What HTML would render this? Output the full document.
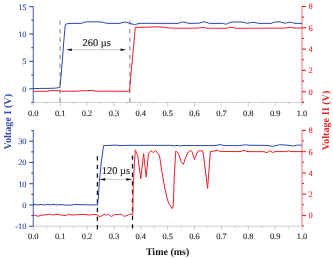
<!DOCTYPE html>
<html><head><meta charset="utf-8"><style>
html,body{margin:0;padding:0;background:#fff;}
svg{display:block;will-change:transform;}
text{font-family:"Liberation Serif",serif;text-rendering:geometricPrecision;}
.tl{font-size:8.4px;fill:#222;stroke:#222;stroke-width:0.12px;}
.tb{font-size:8.4px;fill:#3348a8;stroke:#3348a8;stroke-width:0.12px;}
.tr{font-size:8.4px;fill:#e62424;stroke:#e62424;stroke-width:0.12px;}
.ann{font-size:10.4px;fill:#222;stroke:#222;stroke-width:0.15px;}
.yt{font-size:10.2px;font-weight:bold;}
.xt{font-size:10px;font-weight:bold;fill:#111;}
</style></head><body>
<svg width="333" height="259" viewBox="0 0 333 259">
<line x1="33.3" y1="102.4" x2="302.0" y2="102.4" stroke="#cccccc" stroke-width="1"/>
<line x1="33.30" y1="102.4" x2="33.30" y2="106.4" stroke="#cccccc" stroke-width="1"/>
<text x="33.30" y="115.60" text-anchor="middle" class="tl">0.0</text>
<line x1="46.73" y1="102.4" x2="46.73" y2="104.4" stroke="#cccccc" stroke-width="1"/>
<line x1="60.17" y1="102.4" x2="60.17" y2="106.4" stroke="#cccccc" stroke-width="1"/>
<text x="60.17" y="115.60" text-anchor="middle" class="tl">0.1</text>
<line x1="73.60" y1="102.4" x2="73.60" y2="104.4" stroke="#cccccc" stroke-width="1"/>
<line x1="87.04" y1="102.4" x2="87.04" y2="106.4" stroke="#cccccc" stroke-width="1"/>
<text x="87.04" y="115.60" text-anchor="middle" class="tl">0.2</text>
<line x1="100.47" y1="102.4" x2="100.47" y2="104.4" stroke="#cccccc" stroke-width="1"/>
<line x1="113.91" y1="102.4" x2="113.91" y2="106.4" stroke="#cccccc" stroke-width="1"/>
<text x="113.91" y="115.60" text-anchor="middle" class="tl">0.3</text>
<line x1="127.34" y1="102.4" x2="127.34" y2="104.4" stroke="#cccccc" stroke-width="1"/>
<line x1="140.78" y1="102.4" x2="140.78" y2="106.4" stroke="#cccccc" stroke-width="1"/>
<text x="140.78" y="115.60" text-anchor="middle" class="tl">0.4</text>
<line x1="154.21" y1="102.4" x2="154.21" y2="104.4" stroke="#cccccc" stroke-width="1"/>
<line x1="167.65" y1="102.4" x2="167.65" y2="106.4" stroke="#cccccc" stroke-width="1"/>
<text x="167.65" y="115.60" text-anchor="middle" class="tl">0.5</text>
<line x1="181.08" y1="102.4" x2="181.08" y2="104.4" stroke="#cccccc" stroke-width="1"/>
<line x1="194.52" y1="102.4" x2="194.52" y2="106.4" stroke="#cccccc" stroke-width="1"/>
<text x="194.52" y="115.60" text-anchor="middle" class="tl">0.6</text>
<line x1="207.95" y1="102.4" x2="207.95" y2="104.4" stroke="#cccccc" stroke-width="1"/>
<line x1="221.39" y1="102.4" x2="221.39" y2="106.4" stroke="#cccccc" stroke-width="1"/>
<text x="221.39" y="115.60" text-anchor="middle" class="tl">0.7</text>
<line x1="234.82" y1="102.4" x2="234.82" y2="104.4" stroke="#cccccc" stroke-width="1"/>
<line x1="248.26" y1="102.4" x2="248.26" y2="106.4" stroke="#cccccc" stroke-width="1"/>
<text x="248.26" y="115.60" text-anchor="middle" class="tl">0.8</text>
<line x1="261.69" y1="102.4" x2="261.69" y2="104.4" stroke="#cccccc" stroke-width="1"/>
<line x1="275.13" y1="102.4" x2="275.13" y2="106.4" stroke="#cccccc" stroke-width="1"/>
<text x="275.13" y="115.60" text-anchor="middle" class="tl">0.9</text>
<line x1="288.56" y1="102.4" x2="288.56" y2="104.4" stroke="#cccccc" stroke-width="1"/>
<line x1="302.00" y1="102.4" x2="302.00" y2="106.4" stroke="#cccccc" stroke-width="1"/>
<text x="302.00" y="115.60" text-anchor="middle" class="tl">1.0</text>
<line x1="33.3" y1="6.5" x2="33.3" y2="102.4" stroke="#5566bb" stroke-width="1.1"/>
<line x1="31.299999999999997" y1="102.50" x2="33.3" y2="102.50" stroke="#3348a8" stroke-width="1.1"/>
<line x1="29.299999999999997" y1="88.80" x2="33.3" y2="88.80" stroke="#3348a8" stroke-width="1.1"/>
<text x="26.50" y="91.70" text-anchor="end" class="tb">0</text>
<line x1="31.299999999999997" y1="75.10" x2="33.3" y2="75.10" stroke="#3348a8" stroke-width="1.1"/>
<line x1="29.299999999999997" y1="61.40" x2="33.3" y2="61.40" stroke="#3348a8" stroke-width="1.1"/>
<text x="26.50" y="64.30" text-anchor="end" class="tb">5</text>
<line x1="31.299999999999997" y1="47.70" x2="33.3" y2="47.70" stroke="#3348a8" stroke-width="1.1"/>
<line x1="29.299999999999997" y1="34.00" x2="33.3" y2="34.00" stroke="#3348a8" stroke-width="1.1"/>
<text x="26.50" y="36.90" text-anchor="end" class="tb">10</text>
<line x1="31.299999999999997" y1="20.30" x2="33.3" y2="20.30" stroke="#3348a8" stroke-width="1.1"/>
<line x1="29.299999999999997" y1="6.60" x2="33.3" y2="6.60" stroke="#3348a8" stroke-width="1.1"/>
<text x="26.50" y="9.50" text-anchor="end" class="tb">15</text>
<line x1="302.0" y1="6.5" x2="302.0" y2="102.4" stroke="#f07a80" stroke-width="1.1"/>
<line x1="302.0" y1="102.40" x2="304.0" y2="102.40" stroke="#e62424" stroke-width="1.1"/>
<line x1="302.0" y1="91.74" x2="306.0" y2="91.74" stroke="#e62424" stroke-width="1.1"/>
<text x="308.60" y="94.64" class="tr">0</text>
<line x1="302.0" y1="81.08" x2="304.0" y2="81.08" stroke="#e62424" stroke-width="1.1"/>
<line x1="302.0" y1="70.42" x2="306.0" y2="70.42" stroke="#e62424" stroke-width="1.1"/>
<text x="308.60" y="73.32" class="tr">2</text>
<line x1="302.0" y1="59.76" x2="304.0" y2="59.76" stroke="#e62424" stroke-width="1.1"/>
<line x1="302.0" y1="49.10" x2="306.0" y2="49.10" stroke="#e62424" stroke-width="1.1"/>
<text x="308.60" y="52.00" class="tr">4</text>
<line x1="302.0" y1="38.44" x2="304.0" y2="38.44" stroke="#e62424" stroke-width="1.1"/>
<line x1="302.0" y1="27.78" x2="306.0" y2="27.78" stroke="#e62424" stroke-width="1.1"/>
<text x="308.60" y="30.68" class="tr">6</text>
<line x1="302.0" y1="17.12" x2="304.0" y2="17.12" stroke="#e62424" stroke-width="1.1"/>
<line x1="302.0" y1="6.46" x2="306.0" y2="6.46" stroke="#e62424" stroke-width="1.1"/>
<text x="308.60" y="9.36" class="tr">8</text>
<line x1="33.3" y1="226.2" x2="302.0" y2="226.2" stroke="#cccccc" stroke-width="1"/>
<line x1="33.30" y1="226.2" x2="33.30" y2="230.2" stroke="#cccccc" stroke-width="1"/>
<text x="33.30" y="239.40" text-anchor="middle" class="tl">0.0</text>
<line x1="46.73" y1="226.2" x2="46.73" y2="228.2" stroke="#cccccc" stroke-width="1"/>
<line x1="60.17" y1="226.2" x2="60.17" y2="230.2" stroke="#cccccc" stroke-width="1"/>
<text x="60.17" y="239.40" text-anchor="middle" class="tl">0.1</text>
<line x1="73.60" y1="226.2" x2="73.60" y2="228.2" stroke="#cccccc" stroke-width="1"/>
<line x1="87.04" y1="226.2" x2="87.04" y2="230.2" stroke="#cccccc" stroke-width="1"/>
<text x="87.04" y="239.40" text-anchor="middle" class="tl">0.2</text>
<line x1="100.47" y1="226.2" x2="100.47" y2="228.2" stroke="#cccccc" stroke-width="1"/>
<line x1="113.91" y1="226.2" x2="113.91" y2="230.2" stroke="#cccccc" stroke-width="1"/>
<text x="113.91" y="239.40" text-anchor="middle" class="tl">0.3</text>
<line x1="127.34" y1="226.2" x2="127.34" y2="228.2" stroke="#cccccc" stroke-width="1"/>
<line x1="140.78" y1="226.2" x2="140.78" y2="230.2" stroke="#cccccc" stroke-width="1"/>
<text x="140.78" y="239.40" text-anchor="middle" class="tl">0.4</text>
<line x1="154.21" y1="226.2" x2="154.21" y2="228.2" stroke="#cccccc" stroke-width="1"/>
<line x1="167.65" y1="226.2" x2="167.65" y2="230.2" stroke="#cccccc" stroke-width="1"/>
<text x="167.65" y="239.40" text-anchor="middle" class="tl">0.5</text>
<line x1="181.08" y1="226.2" x2="181.08" y2="228.2" stroke="#cccccc" stroke-width="1"/>
<line x1="194.52" y1="226.2" x2="194.52" y2="230.2" stroke="#cccccc" stroke-width="1"/>
<text x="194.52" y="239.40" text-anchor="middle" class="tl">0.6</text>
<line x1="207.95" y1="226.2" x2="207.95" y2="228.2" stroke="#cccccc" stroke-width="1"/>
<line x1="221.39" y1="226.2" x2="221.39" y2="230.2" stroke="#cccccc" stroke-width="1"/>
<text x="221.39" y="239.40" text-anchor="middle" class="tl">0.7</text>
<line x1="234.82" y1="226.2" x2="234.82" y2="228.2" stroke="#cccccc" stroke-width="1"/>
<line x1="248.26" y1="226.2" x2="248.26" y2="230.2" stroke="#cccccc" stroke-width="1"/>
<text x="248.26" y="239.40" text-anchor="middle" class="tl">0.8</text>
<line x1="261.69" y1="226.2" x2="261.69" y2="228.2" stroke="#cccccc" stroke-width="1"/>
<line x1="275.13" y1="226.2" x2="275.13" y2="230.2" stroke="#cccccc" stroke-width="1"/>
<text x="275.13" y="239.40" text-anchor="middle" class="tl">0.9</text>
<line x1="288.56" y1="226.2" x2="288.56" y2="228.2" stroke="#cccccc" stroke-width="1"/>
<line x1="302.00" y1="226.2" x2="302.00" y2="230.2" stroke="#cccccc" stroke-width="1"/>
<text x="302.00" y="239.40" text-anchor="middle" class="tl">1.0</text>
<line x1="33.3" y1="130.3" x2="33.3" y2="226.2" stroke="#5566bb" stroke-width="1.1"/>
<line x1="29.299999999999997" y1="226.27" x2="33.3" y2="226.27" stroke="#3348a8" stroke-width="1.1"/>
<text x="26.50" y="229.17" text-anchor="end" class="tb">-10</text>
<line x1="31.299999999999997" y1="215.63" x2="33.3" y2="215.63" stroke="#3348a8" stroke-width="1.1"/>
<line x1="29.299999999999997" y1="205.00" x2="33.3" y2="205.00" stroke="#3348a8" stroke-width="1.1"/>
<text x="26.50" y="207.90" text-anchor="end" class="tb">0</text>
<line x1="31.299999999999997" y1="194.37" x2="33.3" y2="194.37" stroke="#3348a8" stroke-width="1.1"/>
<line x1="29.299999999999997" y1="183.73" x2="33.3" y2="183.73" stroke="#3348a8" stroke-width="1.1"/>
<text x="26.50" y="186.63" text-anchor="end" class="tb">10</text>
<line x1="31.299999999999997" y1="173.09" x2="33.3" y2="173.09" stroke="#3348a8" stroke-width="1.1"/>
<line x1="29.299999999999997" y1="162.46" x2="33.3" y2="162.46" stroke="#3348a8" stroke-width="1.1"/>
<text x="26.50" y="165.36" text-anchor="end" class="tb">20</text>
<line x1="31.299999999999997" y1="151.82" x2="33.3" y2="151.82" stroke="#3348a8" stroke-width="1.1"/>
<line x1="29.299999999999997" y1="141.19" x2="33.3" y2="141.19" stroke="#3348a8" stroke-width="1.1"/>
<text x="26.50" y="144.09" text-anchor="end" class="tb">30</text>
<line x1="31.299999999999997" y1="130.56" x2="33.3" y2="130.56" stroke="#3348a8" stroke-width="1.1"/>
<line x1="302.0" y1="130.3" x2="302.0" y2="226.2" stroke="#f07a80" stroke-width="1.1"/>
<line x1="302.0" y1="226.03" x2="304.0" y2="226.03" stroke="#e62424" stroke-width="1.1"/>
<line x1="302.0" y1="215.40" x2="306.0" y2="215.40" stroke="#e62424" stroke-width="1.1"/>
<text x="308.60" y="218.30" class="tr">0</text>
<line x1="302.0" y1="204.77" x2="304.0" y2="204.77" stroke="#e62424" stroke-width="1.1"/>
<line x1="302.0" y1="194.14" x2="306.0" y2="194.14" stroke="#e62424" stroke-width="1.1"/>
<text x="308.60" y="197.04" class="tr">2</text>
<line x1="302.0" y1="183.51" x2="304.0" y2="183.51" stroke="#e62424" stroke-width="1.1"/>
<line x1="302.0" y1="172.88" x2="306.0" y2="172.88" stroke="#e62424" stroke-width="1.1"/>
<text x="308.60" y="175.78" class="tr">4</text>
<line x1="302.0" y1="162.25" x2="304.0" y2="162.25" stroke="#e62424" stroke-width="1.1"/>
<line x1="302.0" y1="151.62" x2="306.0" y2="151.62" stroke="#e62424" stroke-width="1.1"/>
<text x="308.60" y="154.52" class="tr">6</text>
<line x1="302.0" y1="140.99" x2="304.0" y2="140.99" stroke="#e62424" stroke-width="1.1"/>
<line x1="302.0" y1="130.36" x2="306.0" y2="130.36" stroke="#e62424" stroke-width="1.1"/>
<text x="308.60" y="133.26" class="tr">8</text>
<line x1="60.1" y1="20.4" x2="60.1" y2="102.2" stroke="#999" stroke-width="1.3" stroke-dasharray="4.4 4.2" stroke-dashoffset="0"/>
<line x1="129.9" y1="20.4" x2="129.9" y2="102.2" stroke="#999" stroke-width="1.3" stroke-dasharray="4.4 4.2" stroke-dashoffset="0"/>
<line x1="97.4" y1="156.2" x2="97.4" y2="230" stroke="#111" stroke-width="1.3" stroke-dasharray="4.4 4.2" stroke-dashoffset="0"/>
<line x1="132.5" y1="155.4" x2="132.5" y2="230" stroke="#111" stroke-width="1.3" stroke-dasharray="4.4 4.2" stroke-dashoffset="0"/>
<polyline points="33.20,91.30 47.00,91.30 51.00,90.60 57.00,90.60 61.50,91.20 78.00,91.20 81.00,90.60 85.00,90.90 89.00,90.50 92.00,90.40 96.00,91.20 128.00,91.30 129.40,91.30 135.30,27.30 146.00,27.30 151.00,27.00 155.50,26.80 160.00,27.00 164.00,27.30 170.00,28.00 175.00,28.20 196.00,28.20 200.00,27.80 203.00,27.40 207.00,28.20 225.00,28.30 228.00,27.80 231.80,27.20 236.00,28.30 285.00,28.10 288.00,27.60 290.20,27.20 293.00,27.80 296.00,28.10 302.00,28.10" fill="none" stroke="#e8202a" stroke-width="1.0" stroke-linejoin="round"/>
<polyline points="33.20,88.50 45.00,88.40 55.00,88.20 58.00,87.80 60.00,87.30 62.40,60.00 63.90,40.00 65.30,24.50 67.00,23.80 69.90,23.40 81.20,23.40 83.50,22.60 86.00,21.90 95.00,21.80 101.50,22.00 104.50,22.80 107.80,23.40 119.80,23.40 122.00,22.60 124.60,22.00 127.00,22.50 130.00,23.40 134.50,24.60 140.00,23.30 178.00,23.40 180.50,22.60 183.40,22.00 186.00,22.60 189.00,23.40 199.00,23.20 201.50,22.40 204.80,21.80 207.00,22.60 209.50,23.40 223.40,23.40 225.80,24.30 228.50,23.20 231.80,22.00 242.00,22.00 245.00,22.80 247.90,23.20 250.50,22.70 253.30,22.30 256.00,22.80 258.70,23.40 271.00,23.40 273.00,22.60 275.20,21.90 280.00,21.90 283.00,22.70 285.40,23.20 288.00,22.50 290.20,22.10 292.70,22.70 295.00,23.40 302.00,23.40" fill="none" stroke="#2a48aa" stroke-width="1.0" stroke-linejoin="round"/>
<polyline points="33.20,215.10 35.50,215.30 38.00,216.30 41.00,215.20 46.00,214.80 49.40,214.10 53.00,215.00 57.00,214.20 61.00,215.00 65.80,215.60 68.30,214.30 72.00,215.00 83.00,214.40 90.00,215.00 95.00,214.40 97.50,215.00 100.20,216.90 104.60,214.10 106.50,215.30 108.20,214.20 111.30,216.50 114.70,214.60 121.30,214.30 124.40,216.50 128.50,214.80 131.00,214.00 132.80,214.30 133.10,190.00 134.60,160.00 135.40,149.90 137.70,155.60 140.80,178.80 143.60,153.60 146.20,177.20 148.50,153.30 150.90,150.80 153.30,152.50 155.70,150.80 158.60,154.00 159.50,156.00 160.50,162.00 161.60,170.00 163.30,180.00 165.20,190.00 167.50,200.00 169.50,204.50 172.30,208.60 173.00,207.00 173.50,200.00 174.40,175.00 175.20,160.00 175.80,150.90 178.50,153.60 181.20,161.70 183.40,164.40 185.50,157.90 188.20,152.00 190.40,150.50 192.00,151.50 194.50,159.50 197.40,152.00 198.50,150.90 202.80,150.90 203.60,156.00 207.60,188.40 210.40,151.40 214.00,151.20 217.40,150.20 220.00,151.40 238.00,151.60 241.00,151.40 244.00,150.30 247.00,151.60 264.00,151.70 267.00,152.70 269.60,150.70 272.70,152.50 275.00,151.60 286.00,151.60 288.50,150.80 291.00,151.60 302.00,151.60" fill="none" stroke="#e8202a" stroke-width="1.0" stroke-linejoin="round"/>
<polyline points="33.20,204.40 36.00,204.50 38.00,205.00 41.00,204.40 45.00,205.00 48.00,204.40 50.00,205.00 53.00,204.40 57.60,205.00 61.00,204.40 64.50,205.10 71.00,205.10 75.00,204.40 85.00,204.80 95.00,204.90 97.40,205.00 98.30,198.00 99.50,180.00 101.50,160.00 102.50,154.00 103.50,145.60 110.00,145.40 115.00,145.10 120.00,145.50 130.00,145.30 140.00,145.40 150.00,145.30 160.00,145.40 170.00,145.30 174.80,145.90 177.00,145.40 179.80,145.90 183.00,145.50 215.00,145.60 220.00,144.60 224.00,145.50 237.70,145.70 241.00,145.40 245.20,144.80 250.00,145.30 262.00,145.30 268.00,145.60 273.30,146.30 279.70,144.70 288.00,145.20 293.50,146.00 297.30,145.00 302.00,145.30" fill="none" stroke="#2a48aa" stroke-width="1.0" stroke-linejoin="round"/>
<line x1="69" y1="49.7" x2="123.3" y2="49.7" stroke="#b8b8b8" stroke-width="0.8"/>
<path d="M66,49.7 L71.8,48.400000000000006 L71.8,51.0 Z" fill="#111"/>
<path d="M126.3,49.7 L120.5,48.400000000000006 L120.5,51.0 Z" fill="#111"/>
<text x="96.6" y="45.6" text-anchor="middle" class="ann">260 µs</text>
<line x1="102.4" y1="179.4" x2="129.2" y2="179.4" stroke="#b8b8b8" stroke-width="0.8"/>
<path d="M99.4,179.4 L105.2,178.1 L105.2,180.70000000000002 Z" fill="#111"/>
<path d="M132.2,179.4 L126.39999999999999,178.1 L126.39999999999999,180.70000000000002 Z" fill="#111"/>
<text x="115.9" y="173.9" text-anchor="middle" class="ann">120 µs</text>
<text transform="translate(11.0,121.7) rotate(-90)" text-anchor="middle" class="yt" fill="#3348a8">Voltage I (V)</text>
<text transform="translate(328.6,120.5) rotate(-90)" text-anchor="middle" class="yt" fill="#e62424">Voltage II (V)</text>
<text x="167.6" y="255.3" text-anchor="middle" class="xt">Time (ms)</text>
</svg>
</body></html>
